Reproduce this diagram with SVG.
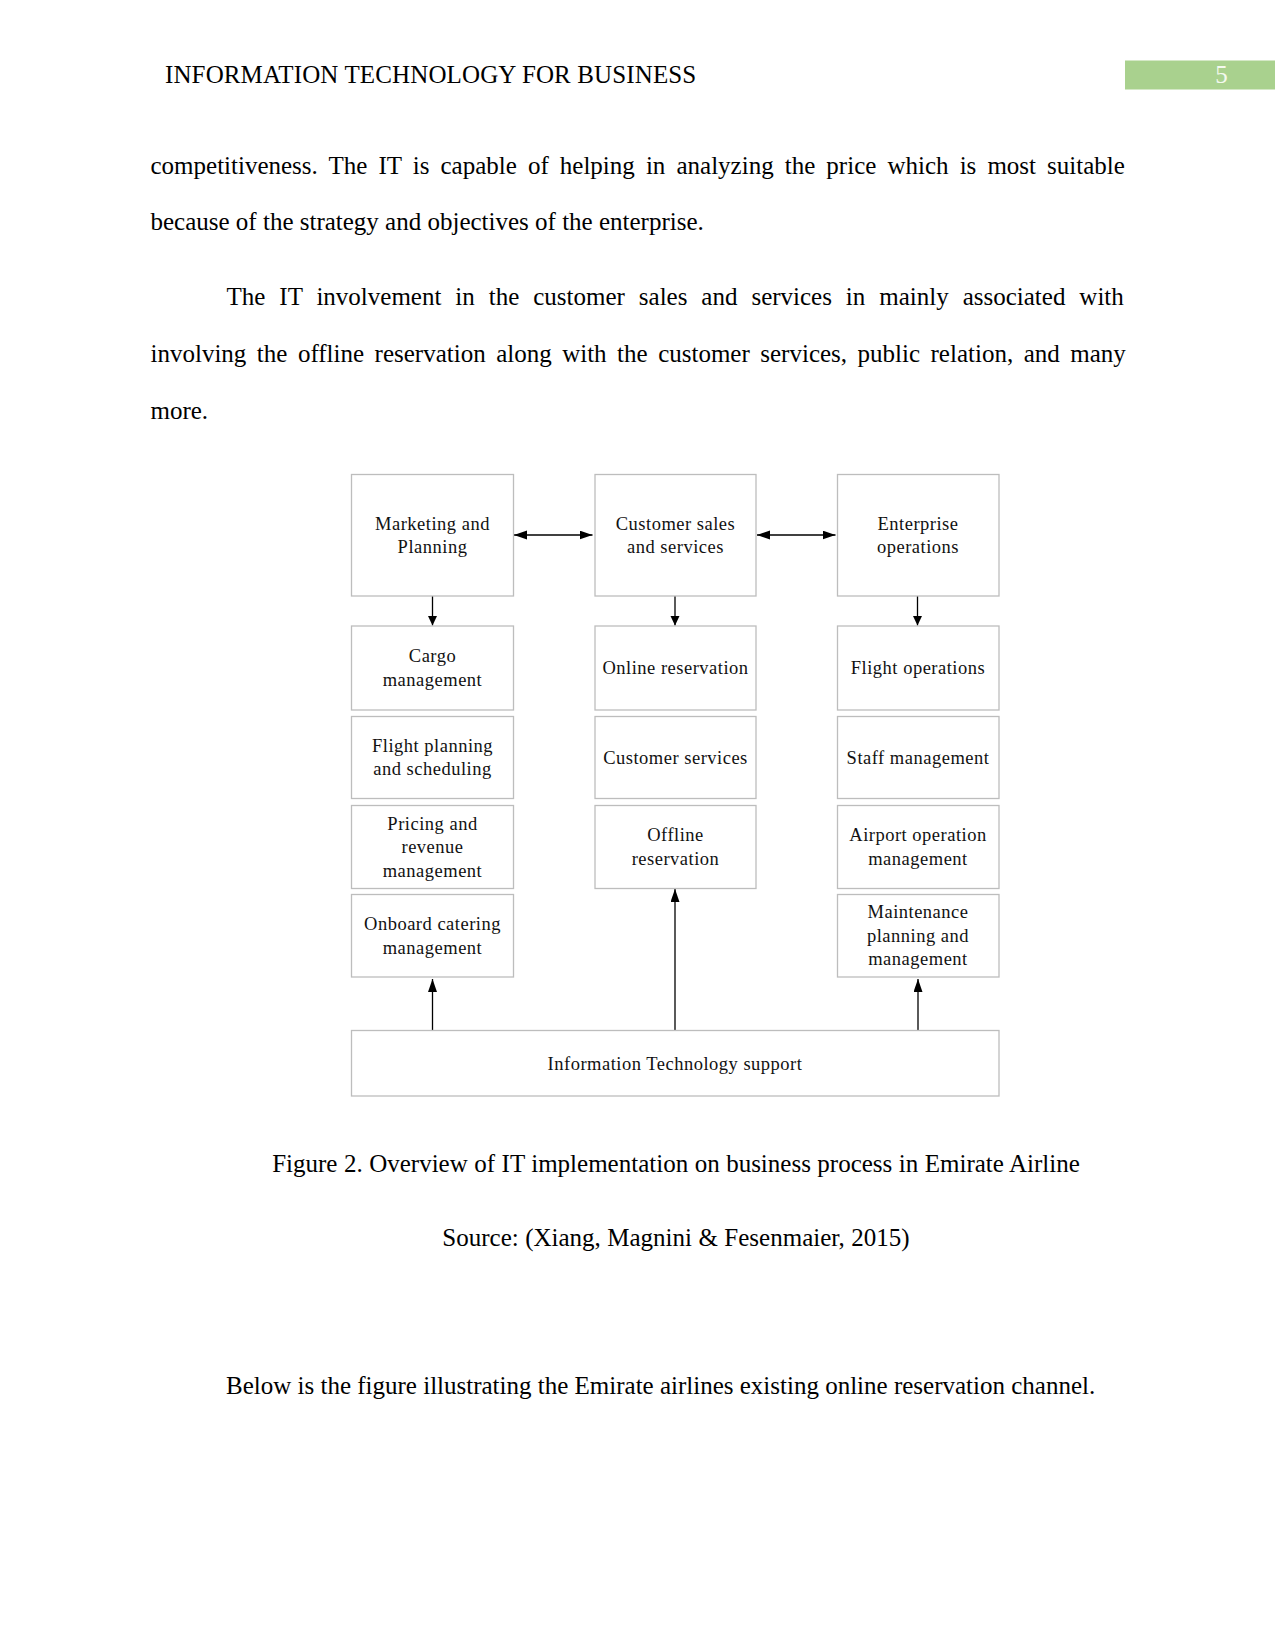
<svg xmlns="http://www.w3.org/2000/svg" width="1275" height="1650" viewBox="0 0 1275 1650">
<defs>
<style>
.body{font-family:"Liberation Serif","Times New Roman",serif;font-size:25px;fill:#000}
.box{fill:#fff;stroke:#bdbdbd;stroke-width:1.3}
.lbl{font-family:"Liberation Serif","Times New Roman",serif;font-size:18.5px;letter-spacing:0.5px;fill:#111;text-anchor:middle}
.con{stroke:#000;stroke-width:1.3;fill:none}
</style>
<marker id="ah" markerUnits="userSpaceOnUse" markerWidth="14" markerHeight="10" refX="13" refY="4.5" orient="auto-start-reverse">
<path d="M0,0 L13,4.5 L0,9 z" fill="#000"/>
</marker>
<marker id="ahs" markerUnits="userSpaceOnUse" markerWidth="10" markerHeight="10" refX="9.5" refY="4.5" orient="auto">
<path d="M0,0 L9.5,4.5 L0,9 z" fill="#000"/>
</marker>
</defs>
<rect width="1275" height="1650" fill="#fff"/>

<g id="header">
<text class="body" x="165" y="83" letter-spacing="0.12">INFORMATION TECHNOLOGY FOR BUSINESS</text>
<rect x="1125" y="60.5" width="150" height="29" fill="#a9d18e"/>
<text x="1221.5" y="83" style="font-family:'Liberation Serif',serif;font-size:25px;fill:#f4f9ef;text-anchor:middle">5</text>
</g>

<g id="paragraphs">
<text class="body" x="150.5" y="173.5" word-spacing="4.85">competitiveness. The IT is capable of helping in analyzing the price which is most suitable</text>
<text class="body" x="150.5" y="230">because of the strategy and objectives of the enterprise.</text>
<text class="body" x="226.5" y="305" word-spacing="7.7">The IT involvement in the customer sales and services in mainly associated with</text>
<text class="body" x="150.5" y="361.5" word-spacing="4.25">involving the offline reservation along with the customer services, public relation, and many</text>
<text class="body" x="150.5" y="419">more.</text>
</g>

<g id="connectors">
<line class="con" x1="514" y1="535" x2="592.5" y2="535" marker-start="url(#ah)" marker-end="url(#ah)"/>
<line class="con" x1="757" y1="535" x2="835.5" y2="535" marker-start="url(#ah)" marker-end="url(#ah)"/>
<line class="con" x1="432.5" y1="596" x2="432.5" y2="625.5" marker-end="url(#ahs)"/>
<line class="con" x1="675" y1="596" x2="675" y2="625.5" marker-end="url(#ahs)"/>
<line class="con" x1="917.5" y1="596" x2="917.5" y2="625.5" marker-end="url(#ahs)"/>
<line class="con" x1="432.5" y1="1030.5" x2="432.5" y2="979" marker-end="url(#ah)"/>
<line class="con" x1="675" y1="1030.5" x2="675" y2="889" marker-end="url(#ah)"/>
<line class="con" x1="918" y1="1030.5" x2="918" y2="979" marker-end="url(#ah)"/>
</g>

<g id="marketing">
<rect class="box" x="351.5" y="474.5" width="162" height="121.5"/>
<text class="lbl" x="432.5" y="529.5">Marketing and</text>
<text class="lbl" x="432.5" y="553">Planning</text>
</g>
<g id="customer-sales">
<rect class="box" x="595" y="474.5" width="161" height="121.5"/>
<text class="lbl" x="675.5" y="529.5">Customer sales</text>
<text class="lbl" x="675.5" y="553">and services</text>
</g>
<g id="enterprise">
<rect class="box" x="837.5" y="474.5" width="161.5" height="121.5"/>
<text class="lbl" x="918" y="529.5">Enterprise</text>
<text class="lbl" x="918" y="553">operations</text>
</g>

<g id="cargo">
<rect class="box" x="351.5" y="626" width="162" height="84"/>
<text class="lbl" x="432.5" y="662">Cargo</text>
<text class="lbl" x="432.5" y="685.5">management</text>
</g>
<g id="online-reservation">
<rect class="box" x="595" y="626" width="161" height="84"/>
<text class="lbl" x="675.5" y="674">Online reservation</text>
</g>
<g id="flight-operations">
<rect class="box" x="837.5" y="626" width="161.5" height="84"/>
<text class="lbl" x="918" y="674">Flight operations</text>
</g>

<g id="flight-planning">
<rect class="box" x="351.5" y="716.5" width="162" height="82"/>
<text class="lbl" x="432.5" y="751.5">Flight planning</text>
<text class="lbl" x="432.5" y="775">and scheduling</text>
</g>
<g id="customer-services">
<rect class="box" x="595" y="716.5" width="161" height="82"/>
<text class="lbl" x="675.5" y="763.5">Customer services</text>
</g>
<g id="staff-management">
<rect class="box" x="837.5" y="716.5" width="161.5" height="82"/>
<text class="lbl" x="918" y="763.5">Staff management</text>
</g>

<g id="pricing">
<rect class="box" x="351.5" y="805.5" width="162" height="83"/>
<text class="lbl" x="432.5" y="829.5">Pricing and</text>
<text class="lbl" x="432.5" y="853">revenue</text>
<text class="lbl" x="432.5" y="876.5">management</text>
</g>
<g id="offline-reservation">
<rect class="box" x="595" y="805.5" width="161" height="83"/>
<text class="lbl" x="675.5" y="841">Offline</text>
<text class="lbl" x="675.5" y="864.5">reservation</text>
</g>
<g id="airport-operation">
<rect class="box" x="837.5" y="805.5" width="161.5" height="83"/>
<text class="lbl" x="918" y="841">Airport operation</text>
<text class="lbl" x="918" y="864.5">management</text>
</g>

<g id="onboard-catering">
<rect class="box" x="351.5" y="894.5" width="162" height="82.5"/>
<text class="lbl" x="432.5" y="930">Onboard catering</text>
<text class="lbl" x="432.5" y="953.5">management</text>
</g>
<g id="maintenance">
<rect class="box" x="837.5" y="894.5" width="161.5" height="82.5"/>
<text class="lbl" x="918" y="918">Maintenance</text>
<text class="lbl" x="918" y="941.5">planning and</text>
<text class="lbl" x="918" y="965">management</text>
</g>

<g id="it-support">
<rect class="box" x="351.5" y="1030.5" width="647.5" height="65.5"/>
<text class="lbl" x="675" y="1069.5">Information Technology support</text>
</g>

<g id="captions">
<text class="body" x="676" y="1172" text-anchor="middle" word-spacing="0.25">Figure 2. Overview of IT implementation on business process in Emirate Airline</text>
<text class="body" x="676" y="1246" text-anchor="middle" word-spacing="0.2">Source: (Xiang, Magnini &amp; Fesenmaier, 2015)</text>
<text class="body" x="226" y="1394">Below is the figure illustrating the Emirate airlines existing online reservation channel.</text>
</g>
</svg>
